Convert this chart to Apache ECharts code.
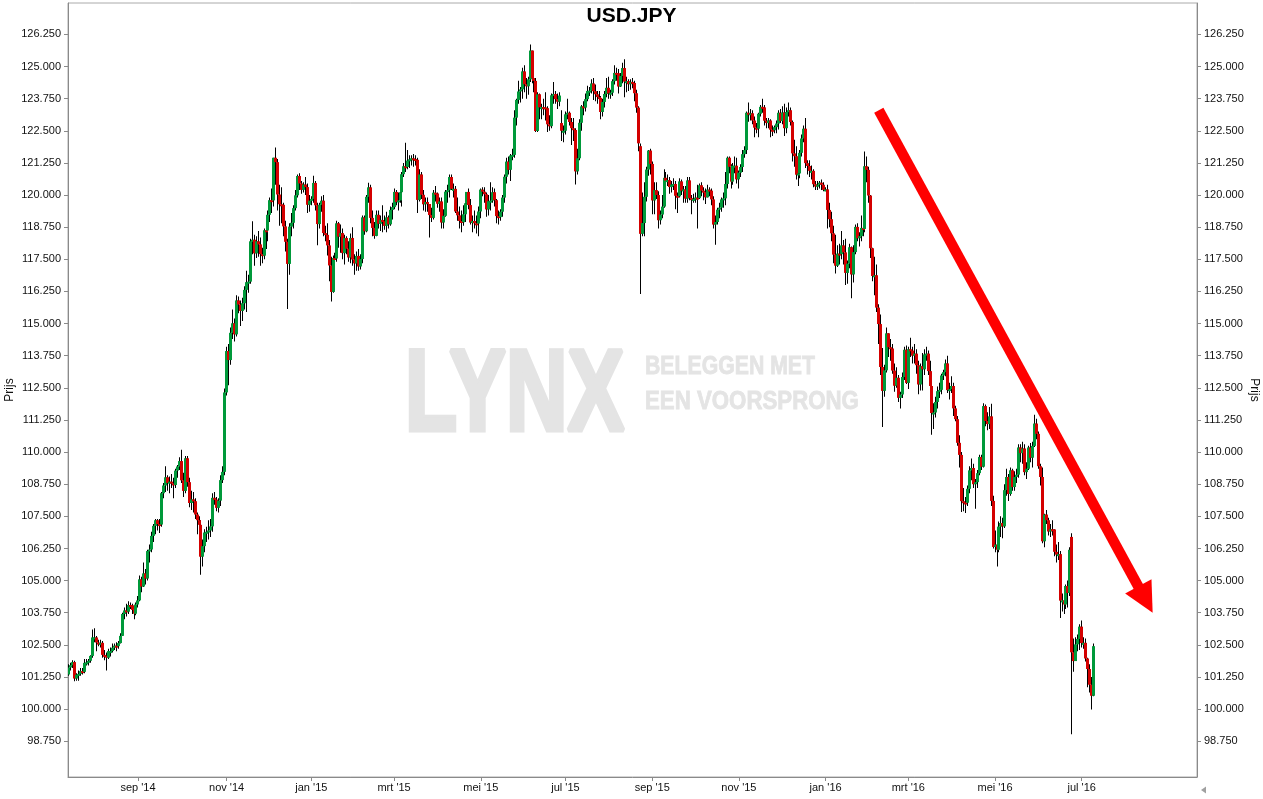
<!DOCTYPE html>
<html><head><meta charset="utf-8">
<script src="https://cdn.jsdelivr.net/npm/echarts@6/dist/echarts.min.js"></script>
<style>html,body{margin:0;padding:0;background:#fff}#chart{width:1263px;height:799px}</style>
</head><body><div id="chart"></div>
<script>
// ---- categories: trading days (weekdays) starting 14 Jul 2014 ----
const START_DATE = Date.UTC(2014, 6, 14);
const N_SLOTS = 573;
const tickMonths = ['2014-09','2014-11','2015-01','2015-03','2015-05','2015-07','2015-09','2015-11','2016-01','2016-03','2016-05','2016-07'];
const tickLabels = ["sep '14","nov '14","jan '15","mrt '15","mei '15","jul '15","sep '15","nov '15","jan '16","mrt '16","mei '16","jul '16"];
const yTicks = [98.75,100,101.25,102.5,103.75,105,106.25,107.5,108.75,110,111.25,112.5,113.75,115,116.25,117.5,118.75,120,121.25,122.5,123.75,125,126.25];

// ---- daily OHLC, one row per week (Mon..Fri) ----
const openPx = [
101.35,101.62,101.71,101.83,101.19, 101.34,101.37,101.48,101.45,101.80, 101.82,101.88,102.07,102.79,102.79, 102.59,102.58,102.58,102.11,102.08,
102.00,102.26,102.26,102.39,102.47, 102.45,102.57,102.85,103.70,103.84, 103.79,104.05,104.04,103.86,103.71, 104.07,104.23,105.05,104.77,105.28,
105.08,106.15,106.21,106.74,107.13, 107.35,107.20,107.18,108.40,108.70, 109.02,108.80,108.85,108.78,108.72, 109.28,109.44,109.65,108.90,108.49,
109.76,108.83,108.02,108.16,108.09, 107.57,107.35,107.17,105.93,106.34, 106.87,106.90,106.95,107.11,108.22, 108.15,107.83,108.11,108.91,109.23,
112.32,113.93,113.58,114.64,115.01, 114.58,115.90,115.74,115.49,115.79, 116.31,116.61,116.63,118.20,118.26, 117.73,118.20,118.08,117.70,117.64,
118.63,118.62,119.23,119.80,119.79, 121.45,121.28,120.02,119.64,119.62, 118.78,118.18,117.32,118.77,118.92, 119.49,119.99,120.74,120.45,120.20,
120.41,120.31,119.62,119.78,119.85, 120.47,119.60,118.87,119.62,119.78, 118.52,118.45,118.04,117.26,116.23, 117.55,117.53,118.90,118.38,118.52,
117.74,118.33,117.91,117.57,118.33, 117.49,117.34,117.63,117.22,117.51, 119.13,118.59,119.93,120.30,119.11, 118.72,118.41,119.23,118.88,119.03,
118.98,118.80,119.13,118.86,119.42, 119.53,120.12,119.73,119.79,120.11, 120.81,121.12,121.09,121.34,121.39, 121.43,121.40,121.37,119.81,120.80,
120.01,119.64,119.73,119.65,119.22, 119.11,120.09,120.06,119.66,119.75, 118.93,119.19,120.13,120.19,120.70, 120.24,120.24,119.36,119.21,118.99,
118.94,119.25,119.68,120.12,119.61, 118.93,118.99,118.90,118.89,119.36, 120.21,120.13,120.03,119.44,119.76, 119.78,120.11,119.80,119.18,119.14,
119.35,119.90,120.71,121.30,120.98, 121.54,121.56,123.01,123.70,124.03, 124.11,124.81,124.31,124.23,124.50, 125.62,124.55,124.44,122.49,123.92,
123.41,123.42,123.41,123.38,122.75, 122.68,123.88,123.93,123.73,123.63, 122.80,122.50,122.50,123.14,123.20, 122.84,122.60,122.53,120.92,121.43,
122.81,123.45,123.40,123.73,124.05, 124.06,124.34,124.04,123.92,123.81, 123.78,123.23,123.62,123.93,124.17, 123.95,123.98,124.43,124.75,124.74,
124.22,124.63,124.94,124.41,124.43, 124.31,124.40,124.36,123.96,123.40, 121.90,118.49,118.91,119.93,120.99, 121.73,121.21,119.79,120.19,120.00,
119.02,119.24,119.55,120.67,120.56, 120.58,120.31,120.41,120.43,119.97, 119.95,120.53,120.17,120.22,119.86, 120.57,119.88,119.82,119.85,119.90,
119.88,120.38,120.17,120.11,119.91, 120.21,120.17,119.83,118.85,118.95, 119.43,119.51,119.83,119.87,120.43, 121.45,121.10,120.52,121.14,121.14,
120.61,120.87,121.09,121.59,121.75, 123.20,123.14,123.18,122.90,122.62, 122.58,123.16,123.43,123.41,122.89, 122.80,122.90,122.54,122.52,122.64,
122.78,123.20,122.88,123.21,122.60, 123.23,123.30,122.84,121.62,121.51, 120.79,120.84,121.64,122.20,122.58, 121.24,121.13,120.94,120.94,120.42,
120.33,120.40,120.48,120.40,120.20, 120.22,119.42,119.06,118.51,117.68, 117.25,117.72,117.70,118.04,117.77, 116.97,117.33,117.97,116.91,117.78,
118.76,118.32,118.40,118.72,118.68, 121.12,120.98,119.98,117.93,116.85, 116.88,115.62,114.98,113.31,112.38, 113.18,114.62,114.08,114.03,113.17,
112.58,112.89,112.11,112.24,112.92, 113.98,112.69,114.00,113.95,113.75, 113.83,113.38,112.63,113.34,113.22, 113.80,113.83,113.15,112.57,111.52,
111.54,111.95,112.37,112.42,112.98, 113.11,113.45,112.41,112.45,112.57, 111.70,111.28,110.36,109.89,108.09, 108.04,108.03,108.57,109.29,109.38,
108.75,108.83,109.18,109.81,109.43, 111.79,111.21,111.09,111.39,108.10, 106.31,106.40,106.20,107.10,107.24, 107.11,108.52,109.03,108.37,109.29,
108.64,109.03,109.12,110.18,109.96, 110.14,109.22,109.35,110.18,109.78, 110.24,111.11,110.71,109.45,109.03, 106.53,107.57,107.35,106.91,107.00,
106.99,106.12,106.01,106.03,104.22, 104.23,104.07,104.79,104.52,106.70, 102.21,101.87,102.52,102.73,103.21, 102.57,102.58,101.97,101.56,100.95,
100.52];
const closePx = [
101.62,101.71,101.83,101.19,101.34, 101.37,101.48,101.45,101.80,101.82, 101.88,102.07,102.79,102.79,102.59, 102.58,102.58,102.11,102.08,102.00,
102.26,102.26,102.39,102.47,102.45, 102.57,102.85,103.70,103.84,103.79, 104.05,104.04,103.86,103.71,104.07, 104.23,105.05,104.77,105.28,105.08,
106.15,106.21,106.74,107.13,107.35, 107.20,107.18,108.40,108.70,109.02, 108.80,108.85,108.78,108.72,109.28, 109.44,109.65,108.90,108.49,109.76,
108.83,108.02,108.16,108.09,107.57, 107.35,107.17,105.93,106.34,106.87, 106.90,106.95,107.11,108.22,108.15, 107.83,108.11,108.91,109.23,112.32,
113.93,113.58,114.64,115.01,114.58, 115.90,115.74,115.49,115.79,116.31, 116.61,116.63,118.20,118.26,117.73, 118.20,118.08,117.70,117.64,118.63,
118.62,119.23,119.80,119.79,121.45, 121.28,120.02,119.64,119.62,118.78, 118.18,117.32,118.77,118.92,119.49, 119.99,120.74,120.45,120.20,120.41,
120.31,119.62,119.78,119.85,120.47, 119.60,118.87,119.62,119.78,118.52, 118.45,118.04,117.26,116.23,117.55, 117.53,118.90,118.38,118.52,117.74,
118.33,117.91,117.57,118.33,117.49, 117.34,117.63,117.22,117.51,119.13, 118.59,119.93,120.30,119.11,118.72, 118.41,119.23,118.88,119.03,118.98,
118.80,119.13,118.86,119.42,119.53, 120.12,119.73,119.79,120.11,120.81, 121.12,121.09,121.34,121.39,121.43, 121.40,121.37,119.81,120.80,120.01,
119.64,119.73,119.65,119.22,119.11, 120.09,120.06,119.66,119.75,118.93, 119.19,120.13,120.19,120.70,120.24, 120.24,119.36,119.21,118.99,118.94,
119.25,119.68,120.12,119.61,118.93, 118.99,118.90,118.89,119.36,120.21, 120.13,120.03,119.44,119.76,119.78, 120.11,119.80,119.18,119.14,119.35,
119.90,120.71,121.30,120.98,121.54, 121.56,123.01,123.70,124.03,124.11, 124.81,124.31,124.23,124.50,125.62, 124.55,124.44,122.49,123.92,123.41,
123.42,123.41,123.38,122.75,122.68, 123.88,123.93,123.73,123.63,123.87, 122.50,122.50,123.14,123.20,122.84, 122.60,122.53,120.92,121.43,122.81,
123.45,123.40,123.73,124.05,124.06, 124.34,124.04,123.92,123.81,123.78, 123.23,123.62,123.93,124.17,123.95, 123.98,124.43,124.75,124.74,124.22,
124.63,124.94,124.41,124.43,124.31, 124.40,124.36,123.96,123.40,122.01, 118.49,118.91,119.93,120.99,121.73, 121.21,119.79,120.19,120.00,119.02,
119.24,119.55,120.67,120.56,120.58, 120.31,120.41,120.43,119.97,119.95, 120.53,120.17,120.22,119.86,120.57, 119.88,119.82,119.85,119.90,119.88,
120.38,120.17,120.11,119.91,120.21, 120.17,119.83,118.85,118.95,119.43, 119.51,119.83,119.87,120.43,121.45, 121.10,120.52,121.14,121.14,120.61,
120.87,121.09,121.59,121.75,123.20, 123.14,123.18,122.90,122.62,122.58, 123.16,123.43,123.41,122.89,122.80, 122.90,122.54,122.52,122.64,122.78,
123.20,122.88,123.21,122.60,123.23, 123.30,122.84,121.62,121.51,120.79, 120.84,121.64,122.20,122.58,121.24, 121.13,120.94,120.94,120.42,120.33,
120.40,120.48,120.40,120.20,120.22, 119.42,119.06,118.51,117.68,117.25, 117.72,117.70,118.04,117.77,116.97, 117.33,117.97,116.91,117.78,118.76,
118.32,118.40,118.72,118.68,121.12, 120.98,119.98,117.93,116.85,116.88, 115.62,114.98,113.31,112.38,113.18, 114.62,114.08,114.03,113.17,112.58,
112.89,112.11,112.24,112.92,113.98, 112.69,114.00,113.95,113.75,113.83, 113.38,112.63,113.34,113.22,113.80, 113.83,113.15,112.57,111.52,111.54,
111.95,112.37,112.42,112.98,113.11, 113.45,112.41,112.45,112.57,111.70, 111.28,110.36,109.89,108.09,108.04, 108.03,108.57,109.29,109.38,108.75,
108.83,109.18,109.81,109.43,111.79, 111.21,111.09,111.39,108.10,106.31, 106.40,106.20,107.10,107.24,107.11, 108.52,109.03,108.37,109.29,108.64,
109.03,109.12,110.18,109.96,110.14, 109.22,109.35,110.18,109.78,110.24, 111.11,110.71,109.45,109.03,106.53, 107.57,107.35,106.91,107.00,106.99,
106.12,106.01,106.03,104.22,104.23, 104.07,104.79,104.52,106.20,102.21, 101.87,102.52,102.73,103.21,102.57, 102.58,101.97,101.56,100.95,100.52,
102.45];
const highPx = [
101.75,101.80,101.90,101.88,101.40, 101.50,101.60,101.60,101.95,101.95, 101.95,102.10,103.10,103.15,102.85, 102.70,102.70,102.65,102.30,102.20,
102.35,102.40,102.55,102.55,102.60, 102.65,102.95,103.75,103.95,104.10, 104.20,104.15,104.10,104.00,104.15, 104.40,105.20,105.15,105.70,105.45,
106.20,106.40,106.90,107.20,107.40, 107.40,107.40,108.45,108.80,109.45, 109.10,109.05,109.15,109.00,109.35, 109.50,109.80,110.09,109.20,109.85,
109.85,109.00,108.50,108.45,108.20, 107.65,107.50,107.35,106.60,107.00, 107.10,107.35,107.40,108.40,108.45, 108.25,108.20,109.10,109.45,112.47,
114.10,114.20,114.85,115.55,115.20, 116.10,116.05,115.90,116.00,116.45, 117.05,116.90,118.30,118.98,118.45, 118.40,118.60,118.35,117.95,118.70,
118.95,119.40,119.90,120.25,121.45, 121.85,121.40,120.40,120.30,119.70, 119.00,118.30,118.90,119.30,119.60, 120.20,120.80,120.85,120.55,120.50,
120.70,120.45,120.00,119.95,120.75, 120.55,119.70,119.70,119.95,120.00, 118.80,118.90,118.25,117.60,117.65, 117.75,119.00,118.95,118.85,118.70,
118.45,118.40,118.20,118.50,118.75, 117.70,117.80,117.90,117.70,119.20, 119.20,120.00,120.48,120.40,119.40, 118.95,119.40,119.40,119.20,119.60,
119.20,119.35,119.20,119.55,119.70, 120.25,120.20,120.10,120.20,120.90, 121.25,122.03,121.75,121.55,121.55, 121.60,121.55,121.45,121.00,120.90,
120.20,119.90,119.90,119.65,119.50, 120.20,120.35,120.10,119.90,119.90, 119.45,120.20,120.40,120.80,120.80, 120.45,120.35,119.90,119.55,119.40,
119.60,119.90,120.10,120.25,119.85, 119.20,119.40,119.20,119.55,120.25, 120.30,120.30,120.10,120.00,120.50, 120.30,120.25,119.85,119.40,119.45,
120.00,120.80,121.45,121.50,121.60, 121.80,123.30,123.75,124.45,124.20, 124.95,125.05,124.55,124.60,125.86, 125.35,124.95,124.55,124.00,123.95,
123.55,123.75,124.00,123.45,123.10, 123.95,124.40,124.05,123.95,124.00, 123.30,122.70,123.25,123.75,123.25, 123.00,123.00,122.60,121.80,122.95,
123.50,123.65,123.95,124.25,124.20, 124.50,124.55,124.30,124.05,124.05, 123.85,123.75,124.05,124.55,124.60, 124.10,124.50,125.05,124.95,124.90,
124.75,125.15,125.28,124.60,124.50, 124.50,124.55,124.45,124.10,123.45, 122.00,120.10,120.50,121.10,121.75, 121.80,121.30,120.50,120.50,120.15,
119.40,120.00,121.00,120.90,120.80, 120.70,120.55,120.65,120.55,120.10, 120.65,120.60,120.35,120.35,120.70, 120.70,120.00,120.05,120.10,120.40,
120.45,120.50,120.30,120.25,120.40, 120.30,120.25,119.95,119.20,119.50, 119.70,119.90,120.10,120.90,121.50, 121.50,121.20,121.25,121.50,121.45,
120.95,121.20,121.75,121.90,123.25, 123.60,123.35,123.30,123.05,122.80, 123.20,123.50,123.75,123.50,123.00, 123.00,122.95,122.70,122.70,122.90,
123.30,123.35,123.45,123.55,123.40, 123.60,123.40,122.90,122.15,121.90, 121.10,121.75,122.35,122.70,123.00, 121.35,121.35,121.15,121.00,120.55,
120.55,120.55,120.60,120.50,120.30, 120.40,119.70,119.35,118.80,118.45, 118.05,118.10,118.60,118.25,118.30, 117.45,118.10,118.00,118.05,118.85,
118.90,118.55,119.20,119.00,121.69, 121.50,121.10,120.00,117.95,117.60, 117.30,115.75,115.35,114.05,113.40, 114.85,114.50,114.40,114.20,113.45,
113.30,113.00,112.35,113.10,114.10, 114.15,114.10,114.45,114.10,114.20, 114.00,113.55,113.45,113.85,114.00, 114.10,113.95,113.55,112.60,111.90,
112.15,112.55,112.70,113.05,113.20, 113.60,113.75,112.70,112.95,112.70, 111.80,111.40,110.65,110.00,108.60, 108.25,108.70,109.45,109.75,109.55,
108.95,109.30,109.90,109.90,111.90, 111.85,111.55,111.75,111.88,108.30, 106.95,106.80,107.30,107.50,107.45, 108.75,109.35,109.15,109.40,109.35,
109.25,109.35,110.30,110.30,110.40, 110.30,109.60,110.25,110.35,110.40, 111.45,111.30,110.80,109.55,109.40, 107.60,107.75,107.45,107.20,107.35,
107.00,106.40,106.50,106.15,104.50, 104.55,104.85,105.00,106.30,106.84, 102.75,102.80,102.90,103.30,103.45, 102.80,102.75,102.00,101.75,101.25,
102.55];
const lowPx = [
101.30,101.50,101.60,101.08,101.10, 101.10,101.30,101.35,101.40,101.70, 101.70,101.80,102.00,102.60,102.25, 102.45,102.40,102.00,101.90,101.50,
101.95,102.05,102.20,102.30,102.25, 102.35,102.55,102.85,103.50,103.60, 103.70,103.90,103.70,103.50,103.65, 103.95,104.20,104.55,104.75,104.85,
105.00,105.70,106.10,106.50,106.80, 106.95,106.85,107.10,108.20,108.45, 108.50,108.40,108.60,108.20,108.60, 109.00,109.30,108.80,108.25,108.40,
108.65,107.85,107.75,107.65,107.40, 106.80,106.90,105.23,105.55,106.10, 106.50,106.60,106.70,106.90,107.95, 107.70,107.65,107.90,108.80,109.10,
112.20,112.60,113.40,114.40,114.30, 114.50,115.40,114.90,115.10,115.55, 115.45,116.20,116.55,117.70,117.25, 117.55,117.60,117.25,117.35,117.50,
117.90,118.20,118.95,119.30,119.55, 120.40,119.40,118.80,118.90,118.40, 117.80,115.57,116.90,118.40,118.70, 119.40,119.90,120.20,120.05,120.10,
120.00,119.30,119.35,119.60,119.70, 119.40,118.05,118.70,119.35,118.40, 118.20,117.65,116.65,115.86,116.20, 117.20,117.40,117.95,117.75,117.50,
117.30,117.70,117.40,117.35,117.25, 116.90,117.05,117.05,117.10,117.35, 118.45,118.55,119.70,118.90,118.40, 118.30,118.40,118.70,118.60,118.55,
118.65,118.55,118.70,118.80,119.05, 119.45,119.60,119.40,119.70,119.55, 120.70,120.90,121.00,121.05,121.15, 121.10,121.15,119.30,119.75,119.85,
119.40,119.35,119.35,118.35,118.95, 119.05,119.75,119.50,119.35,118.70, 118.70,119.15,119.70,119.90,120.20, 119.90,119.30,119.00,118.70,118.55,
118.80,118.95,119.45,119.45,118.85, 118.55,118.70,118.50,118.40,119.10, 119.95,119.70,119.15,119.20,119.40, 119.70,119.55,118.90,118.85,119.00,
119.15,119.70,120.45,120.80,120.55, 121.35,121.45,122.70,123.55,123.60, 123.75,124.00,123.75,123.90,124.40, 124.35,124.00,122.45,122.45,122.95,
122.95,123.10,122.90,122.45,122.50, 122.60,123.55,123.55,123.35,123.45, 122.10,122.05,122.35,122.95,122.70, 121.95,122.10,120.41,120.80,121.35,
122.50,123.10,123.25,123.65,123.85, 123.95,123.70,123.65,123.55,123.55, 122.95,123.05,123.40,123.80,123.75, 123.75,123.85,124.30,124.45,123.95,
124.20,124.35,123.80,124.00,124.05, 124.10,124.15,123.65,123.20,121.70, 116.15,118.40,118.40,119.75,120.75, 120.80,119.25,119.25,119.85,118.70,
118.85,119.10,119.50,120.10,120.35, 120.05,120.10,120.20,119.45,119.30, 119.90,120.00,119.70,119.70,119.70, 119.80,119.25,119.70,119.70,118.70,
119.85,119.95,119.80,119.65,119.90, 119.95,119.60,118.70,118.07,118.85, 119.10,119.35,119.50,119.60,120.25, 120.85,120.25,120.40,120.85,120.45,
120.25,120.70,120.90,121.45,121.60, 122.85,122.90,122.75,122.25,122.40, 122.25,123.05,123.20,122.70,122.60, 122.60,122.25,122.30,122.40,122.40,
122.55,122.80,122.75,122.30,122.40, 123.05,122.70,121.30,121.10,120.60, 120.35,120.65,121.50,122.05,121.05, 120.80,120.70,120.60,120.30,120.20,
120.20,120.25,120.20,120.15,120.15, 118.70,118.75,118.20,117.35,116.95, 117.20,117.30,117.50,117.30,116.50, 116.55,117.15,115.98,116.60,117.70,
118.20,118.00,118.20,118.40,118.55, 120.50,119.70,117.55,116.65,116.10, 115.45,114.20,113.00,110.98,112.15, 113.10,113.70,113.55,113.05,112.35,
112.50,111.95,111.70,112.10,112.80, 112.65,112.45,113.70,113.45,113.45, 113.05,112.25,112.40,112.40,113.00, 113.55,113.00,112.20,110.67,110.90,
111.35,111.70,112.10,112.25,112.80, 112.95,112.30,112.05,112.30,111.40, 111.20,110.25,109.40,107.67,107.70, 107.63,107.90,108.40,108.90,108.60,
107.80,108.60,109.10,109.30,109.40, 111.00,110.85,110.90,107.90,106.25, 106.10,105.55,106.10,106.70,106.65, 107.05,108.30,108.10,108.30,108.50,
108.50,108.80,109.00,109.60,109.55, 109.10,108.95,109.30,109.60,109.40, 110.20,110.50,109.35,108.70,106.45, 106.30,107.20,106.75,106.70,106.75,
105.95,105.70,105.80,103.55,103.80, 103.70,103.90,103.95,104.40,99.02, 101.45,101.90,102.25,102.30,102.40, 102.35,101.85,100.85,100.65,99.99,
100.50];

// annotation arrow, in data space: [category index, price]
const arrowStart = [411, 123.30];
const arrowTip = [550, 103.75];

// ---- build ----
const dates = [];
for (let t = START_DATE; dates.length < N_SLOTS; t += 86400000) {
  const d = new Date(t), wd = d.getUTCDay();
  if (wd !== 0 && wd !== 6) dates.push(d.toISOString().slice(0, 10));
}
const labelAt = {};
tickMonths.forEach((m, k) => { const idx = dates.findIndex(d => d.startsWith(m)); if (idx >= 0) labelAt[idx] = tickLabels[k]; });
const showTick = (idx) => labelAt[idx] !== undefined;

const candles = openPx.map((o, i) => [i, o, closePx[i], lowPx[i], highPx[i]]);
const RED = '#d40000', GREEN = '#00993a';
const FONT = 'Liberation Sans, Arial, sans-serif';

function renderWick(params, api) {
  const i = api.value(0), o = api.value(1), c = api.value(2), lo = api.value(3), hi = api.value(4);
  const pO = api.coord([i, o]);
  const yH = api.coord([i, Math.max(hi, o, c)])[1];
  const yL = api.coord([i, Math.min(lo, o, c)])[1];
  const left = Math.round(pO[0] - 1.5);
  return { type: 'rect', shape: { x: left + 1, y: yH, width: 1, height: yL - yH }, style: { fill: '#000' } };
}
function renderBody(params, api) {
  const i = api.value(0), o = api.value(1), c = api.value(2);
  const pO = api.coord([i, o]), pC = api.coord([i, c]);
  const left = Math.round(pO[0] - 1.5);
  const top = Math.min(pO[1], pC[1]), bot = Math.max(pO[1], pC[1]);
  const h = Math.max(bot - top, 2);
  return { type: 'rect', shape: { x: left, y: top, width: 3, height: h }, style: { fill: c >= o ? GREEN : RED } };
}

const yCommon = {
  type: 'value', min: 97.36, max: 127.47, scale: true,
  splitLine: { show: false },
  axisLine: { show: true, lineStyle: { color: '#8a8a8a', width: 1 } },
  axisTick: { show: true, length: 4, customValues: yTicks, lineStyle: { color: '#8a8a8a' } },
  axisLabel: { customValues: yTicks, margin: 7, color: '#111', fontSize: 11, fontFamily: FONT, formatter: v => v.toFixed(3) },
  name: 'Prijs', nameLocation: 'middle', nameMoveOverlap: false,
  nameTextStyle: { color: '#111', fontSize: 12, fontFamily: FONT }
};

const chart = echarts.init(document.getElementById('chart'), null, { renderer: 'canvas' });
chart.setOption({
  animation: false,
  backgroundColor: '#fff',
  title: { text: 'USD.JPY', left: 'center', top: 1, textStyle: { fontSize: 21, fontWeight: 'bold', color: '#000', fontFamily: FONT } },
  grid: { left: 68, right: 66, top: 3, bottom: 22, show: true, borderColor: '#aaaaaa', borderWidth: 1, containLabel: false, outerBoundsMode: 'none' },
  xAxis: {
    type: 'category', data: dates, boundaryGap: true,
    axisLine: { lineStyle: { color: '#8a8a8a' } },
    axisTick: { show: true, interval: showTick, alignWithLabel: true, length: 4, lineStyle: { color: '#8a8a8a' } },
    axisLabel: { interval: showTick, formatter: (v, idx) => labelAt[idx] || '', margin: 5, color: '#111', fontSize: 11, fontFamily: FONT, hideOverlap: false },
    splitLine: { show: false }
  },
  yAxis: [
    Object.assign({}, yCommon, { position: 'left', nameRotate: 90, nameGap: 52 }),
    Object.assign({}, yCommon, { position: 'right', nameRotate: -90, nameGap: 51 })
  ],
  graphic: [
    { id: 'wm1', type: 'text', x: 405, y: 398, scaleX: 0.74, z: 0, silent: true,
      style: { text: 'LYNX', font: 'bold 115px ' + FONT, fill: '#e4e4e4', stroke: '#e4e4e4', lineWidth: 5, lineJoin: 'miter', verticalAlign: 'middle', align: 'left' } },
    { id: 'wm2', type: 'text', x: 645, y: 367, scaleX: 0.85, z: 0, silent: true,
      style: { text: 'BELEGGEN MET', font: 'bold 25px ' + FONT, fill: '#e4e4e4', stroke: '#e4e4e4', lineWidth: 0.8, verticalAlign: 'middle', align: 'left' } },
    { id: 'wm3', type: 'text', x: 645, y: 402, scaleX: 0.89, z: 0, silent: true,
      style: { text: 'EEN VOORSPRONG', font: 'bold 25px ' + FONT, fill: '#e4e4e4', stroke: '#e4e4e4', lineWidth: 0.8, verticalAlign: 'middle', align: 'left' } },
    { id: 'corner', type: 'polygon', z: 10, silent: true,
      shape: { points: [[1201, 790], [1206, 786.5], [1206, 793.5]] }, style: { fill: '#a0a0a0' } }
  ],
  series: [
    { type: 'custom', name: 'wick', renderItem: renderWick, data: candles,
      encode: { x: 0, y: [1, 2, 3, 4] }, clip: true, z: 4, xAxisIndex: 0, yAxisIndex: 0 },
    { type: 'custom', name: 'USD.JPY', renderItem: renderBody, data: candles,
      encode: { x: 0, y: [1, 2, 3, 4] }, clip: true, z: 5, xAxisIndex: 0, yAxisIndex: 0 }
  ]
});

// red trend arrow (annotation) drawn from data coordinates
const pS = chart.convertToPixel({ xAxisIndex: 0, yAxisIndex: 0 }, arrowStart);
const pT = chart.convertToPixel({ xAxisIndex: 0, yAxisIndex: 0 }, arrowTip);
const dx = pT[0] - pS[0], dy = pT[1] - pS[1], len = Math.hypot(dx, dy);
const ux = dx / len, uy = dy / len, headLen = 30, headHalf = 15;
const bx = pT[0] - ux * headLen, by = pT[1] - uy * headLen;
chart.setOption({
  graphic: [
    { id: 'arrowLine', type: 'line', z: 50, silent: true,
      shape: { x1: pS[0], y1: pS[1], x2: bx + ux * 2, y2: by + uy * 2 },
      style: { stroke: '#ff0000', lineWidth: 10.5, lineCap: 'butt' } },
    { id: 'arrowHead', type: 'polygon', z: 50, silent: true,
      shape: { points: [[pT[0], pT[1]], [bx - uy * headHalf, by + ux * headHalf], [bx + uy * headHalf, by - ux * headHalf]] },
      style: { fill: '#ff0000' } }
  ]
});
</script>
</body></html>
